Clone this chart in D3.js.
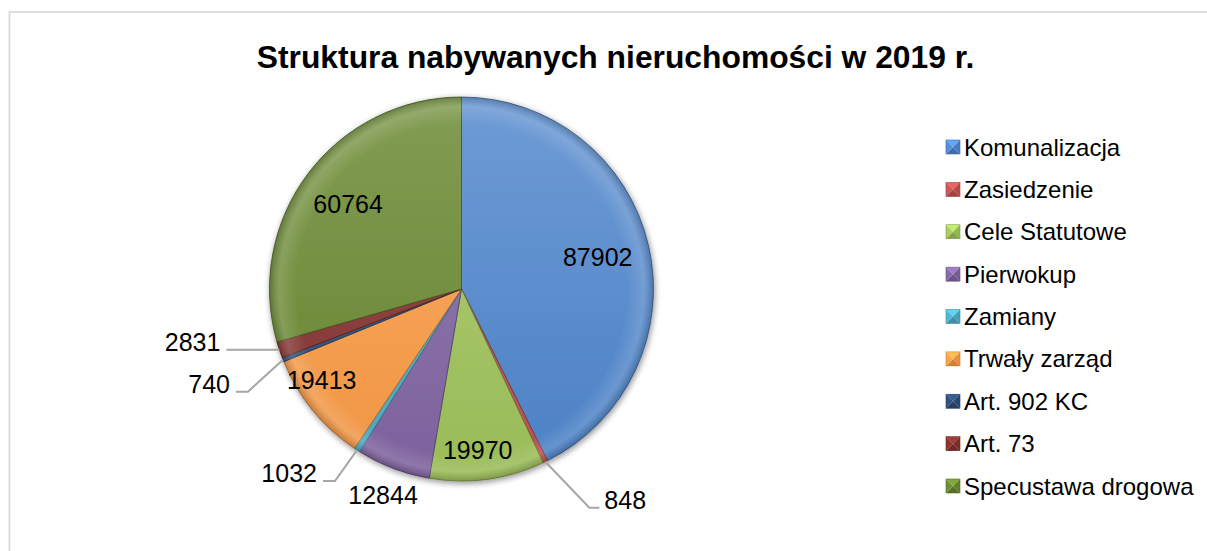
<!DOCTYPE html>
<html>
<head>
<meta charset="utf-8">
<script src="https://cdn.jsdelivr.net/npm/d3@7"></script>
<style>
  body { margin: 0; background: #fff; }
  svg { display: block; }
</style>
</head>
<body>
<svg id="chart"></svg>
<script>
const WIDTH = 1207;
const HEIGHT = 551;

const TITLE = 'Struktura nabywanych nieruchomości w 2019 r.';
const categories = ['Komunalizacja', 'Zasiedzenie', 'Cele Statutowe', 'Pierwokup', 'Zamiany',
    'Trwały zarząd', 'Art. 902 KC', 'Art. 73', 'Specustawa drogowa'];
const values = [87902, 848, 19970, 12844, 1032, 19413, 740, 2831, 60764];
const colors = ['#4e85cc', '#c0504d', '#9fc25a', '#8064a2', '#4bacc6',
    '#f99a45', '#2c4d75', '#84302d', '#68872f'];

// label placement: inside labels sit at radius r (px) on the slice mid angle,
// outside ones get a leader line (elbow offset from the rim point + horizontal tail)
const labelLayout = {
    'Komunalizacja': { r: 140 },
    'Specustawa drogowa': { r: 142 },
    'Cele Statutowe': { r: 162, shift: 2 },
    'Trwały zarząd': { r: 167, shift: 6 },
    'Pierwokup': { r: 220 },
    'Zasiedzenie': { elbow: [44, 46], tail: 10 },
    'Zamiany': { elbow: [-22, 31], tail: -12 },
    'Art. 902 KC': { elbow: [-35, 32], tail: -12 },
    'Art. 73': { elbow: [-53, 0], tail: 0 },
};

const CX = 461.5, CY = 289, R = 192;

let svg = d3.select('#chart')
    .attr('width', WIDTH)
    .attr('height', HEIGHT)
    .style('font-family', 'Liberation Sans, Arial, sans-serif');

let defs = svg.append('defs');

// chart area border
svg.append('rect')
    .attr('x', 9.5).attr('y', 12)
    .attr('width', WIDTH + 20).attr('height', HEIGHT + 20)
    .attr('fill', '#fff')
    .attr('stroke', '#d9d9d9')
    .attr('stroke-width', 1.8);

svg.append('text')
    .attr('x', 615.5).attr('y', 57)
    .attr('text-anchor', 'middle')
    .attr('dominant-baseline', 'central')
    .attr('font-weight', 'bold')
    .attr('font-size', 31.8)
    .attr('fill', '#000')
    .text(TITLE);

////////////////////////////////////////////////////////////////////////////////
// Pie
////////////////////////////////////////////////////////////////////////////////

let color = d3.scaleOrdinal().domain(categories).range(colors);

let pieData = d3.pie().sort(null).value(d => d.value)(
    categories.map((c, i) => ({ name: c, value: values[i] })));

let arc = d3.arc().innerRadius(0).outerRadius(R);

let shadow = defs.append('filter').attr('id', 'shadow')
    .attr('x', '-20%').attr('y', '-20%').attr('width', '140%').attr('height', '140%');
shadow.append('feGaussianBlur').attr('in', 'SourceAlpha').attr('stdDeviation', 3);
shadow.append('feOffset').attr('dx', 1).attr('dy', 2).attr('result', 'blur');
shadow.append('feComponentTransfer').append('feFuncA').attr('type', 'linear').attr('slope', 0.45);
let merge = shadow.append('feMerge');
merge.append('feMergeNode');
merge.append('feMergeNode').attr('in', 'SourceGraphic');

categories.forEach((c, i) => {
    let base = d3.color(colors[i]);
    let g = defs.append('linearGradient').attr('id', 'grad' + i)
        .attr('gradientUnits', 'userSpaceOnUse')
        .attr('x1', 0).attr('y1', -R).attr('x2', 0).attr('y2', R);
    g.append('stop').attr('offset', '0%').attr('stop-color', d3.interpolateRgb(base, '#fff')(0.18));
    g.append('stop').attr('offset', '100%').attr('stop-color', base.darker(0.1));
});

// rim highlight (bevel look)
let rim = defs.append('radialGradient').attr('id', 'rim')
    .attr('gradientUnits', 'userSpaceOnUse')
    .attr('cx', 0).attr('cy', 0).attr('r', R);
rim.append('stop').attr('offset', '0.86').attr('stop-color', '#fff').attr('stop-opacity', 0);
rim.append('stop').attr('offset', '0.95').attr('stop-color', '#fff').attr('stop-opacity', 0.14);
rim.append('stop').attr('offset', '1').attr('stop-color', '#000').attr('stop-opacity', 0.18);

let pieG = svg.append('g').attr('transform', `translate(${CX},${CY})`);

pieG.append('g').attr('filter', 'url(#shadow)')
    .selectAll('path')
    .data(pieData)
    .enter().append('path')
        .attr('d', arc)
        .attr('fill', (d, i) => `url(#grad${i})`)
        .attr('stroke', d => d3.color(color(d.data.name)).darker(1.2))
        .attr('stroke-width', 0.8)
        .attr('stroke-linejoin', 'round');

pieG.append('g')
    .selectAll('path')
    .data(pieData)
    .enter().append('path')
        .attr('d', arc)
        .attr('fill', 'url(#rim)')
        .attr('pointer-events', 'none');

// labels
let labelG = pieG.append('g')
    .attr('font-size', 25)
    .attr('fill', '#000');

pieData.forEach(d => {
    let lay = labelLayout[d.data.name];
    let mid = (d.startAngle + d.endAngle) / 2;
    if (lay.r !== undefined) {
        let a = mid + (lay.shift || 0) * Math.PI / 180;
        labelG.append('text')
            .attr('x', lay.r * Math.sin(a))
            .attr('y', -lay.r * Math.cos(a))
            .attr('text-anchor', 'middle')
            .attr('dominant-baseline', 'central')
            .text(d.data.value);
    } else {
        let ex = R * Math.sin(mid), ey = -R * Math.cos(mid);
        let bx = ex + lay.elbow[0], by = ey + lay.elbow[1];
        let tx = bx + lay.tail;
        labelG.append('path')
            .attr('d', d3.line()([[ex, ey], [bx, by], [tx, by]]))
            .attr('fill', 'none')
            .attr('stroke', '#a6a6a6')
            .attr('stroke-width', 2);
        let right = lay.elbow[0] > 0;
        labelG.append('text')
            .attr('x', tx + (right ? 5 : -6))
            .attr('y', by - 8)
            .attr('text-anchor', right ? 'start' : 'end')
            .attr('dominant-baseline', 'central')
            .text(d.data.value);
    }
});

////////////////////////////////////////////////////////////////////////////////
// Legend
////////////////////////////////////////////////////////////////////////////////

let legendY = d3.scalePoint().domain(categories).range([147, 486]);
const MK = 14;

let legend = svg.append('g')
    .selectAll('g')
    .data(categories)
    .enter().append('g')
        .attr('transform', c => `translate(946, ${legendY(c)})`);

// bevelled square marker: four triangles
legend.each(function(c) {
    let g = d3.select(this);
    let base = d3.color(color(c));
    let h = MK / 2;
    let faces = [
        { pts: [[0, -h], [MK, -h], [h, 0]], col: base.brighter(0.6) },
        { pts: [[MK, -h], [MK, h], [h, 0]], col: base.darker(0.2) },
        { pts: [[0, h], [MK, h], [h, 0]], col: base.darker(0.5) },
        { pts: [[0, -h], [0, h], [h, 0]], col: base.brighter(0.2) },
    ];
    faces.forEach(f => {
        g.append('path')
            .attr('d', d3.line()(f.pts) + 'Z')
            .attr('fill', f.col);
    });
    g.append('rect')
        .attr('x', 0).attr('y', -h).attr('width', MK).attr('height', MK)
        .attr('fill', 'none')
        .attr('stroke', base.darker(0.6)).attr('stroke-width', 0.6);
});

legend.append('text')
    .attr('x', 18)
    .attr('y', 0)
    .attr('dominant-baseline', 'central')
    .attr('font-size', 24)
    .attr('fill', '#000')
    .text(c => c);
</script>
</body>
</html>
